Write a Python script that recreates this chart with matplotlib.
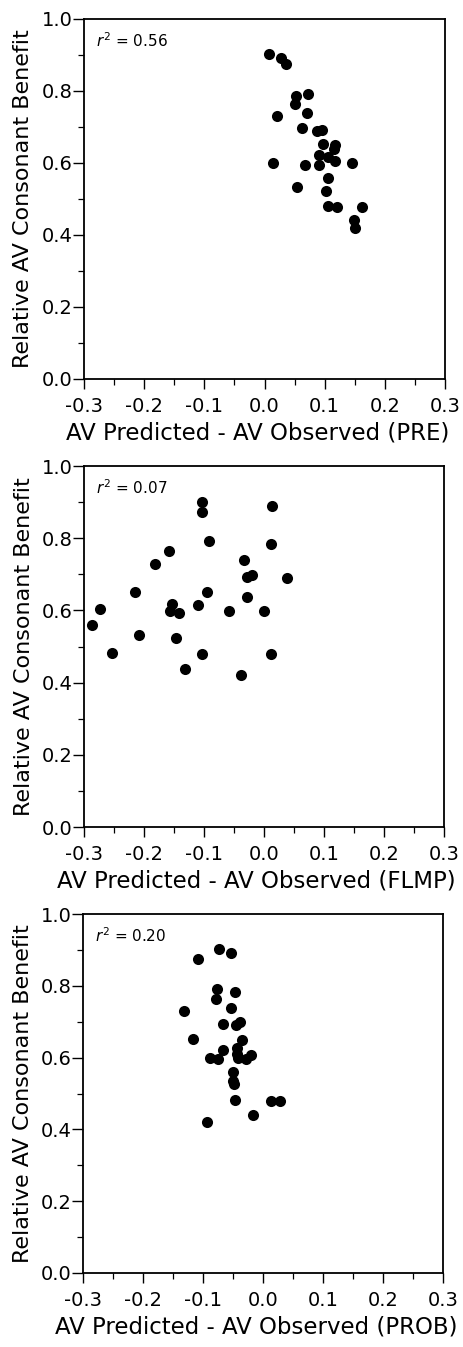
import matplotlib
matplotlib.use("Agg")
import matplotlib.pyplot as plt
from matplotlib.ticker import MultipleLocator

plt.rcParams['font.family'] = ['DejaVu Sans']
plt.rcParams['mathtext.fontset'] = 'dejavusans'
plt.rcParams['axes.unicode_minus'] = False

# Panel 1: PRE
pre_x = [0.008, 0.028, 0.035, 0.053, 0.072, 0.050, 0.020, 0.071, 0.062, 0.088,
         0.096, 0.097, 0.117, 0.116, 0.091, 0.106, 0.117, 0.090, 0.014, 0.068,
         0.146, 0.105, 0.054, 0.102, 0.106, 0.120, 0.162, 0.149, 0.150]
pre_y = [0.902, 0.893, 0.876, 0.785, 0.791, 0.764, 0.730, 0.740, 0.698, 0.689,
         0.692, 0.652, 0.649, 0.639, 0.621, 0.618, 0.606, 0.595, 0.600, 0.594,
         0.599, 0.559, 0.532, 0.523, 0.481, 0.479, 0.479, 0.442, 0.419]

# Panel 2: FLMP
flmp_x = [-0.104, -0.103, 0.013, -0.091, 0.012, -0.158, -0.182, -0.034, -0.028, -0.020,
          0.038, -0.215, -0.095, -0.028, -0.274, -0.153, -0.156, -0.141, -0.110, -0.059,
          0.000, -0.286, -0.209, -0.147, -0.253, -0.104, 0.011, -0.131, -0.038]
flmp_y = [0.901, 0.873, 0.889, 0.791, 0.783, 0.764, 0.729, 0.739, 0.692, 0.697,
          0.689, 0.650, 0.650, 0.638, 0.605, 0.619, 0.597, 0.593, 0.616, 0.598,
          0.597, 0.559, 0.532, 0.524, 0.482, 0.478, 0.478, 0.439, 0.420]

# Panel 3: PROB
prob_x = [-0.108, -0.073, -0.054, -0.076, -0.078, -0.047, -0.132, -0.054, -0.067, -0.045,
          -0.039, -0.117, -0.066, -0.088, -0.075, -0.050, -0.050, -0.049, -0.046, 0.013,
          0.029, -0.016, -0.093, -0.035, -0.043, -0.043, -0.041, -0.028, -0.020]
prob_y = [0.876, 0.902, 0.890, 0.792, 0.764, 0.784, 0.729, 0.738, 0.693, 0.690,
          0.698, 0.651, 0.621, 0.600, 0.595, 0.561, 0.535, 0.527, 0.482, 0.479,
          0.479, 0.440, 0.421, 0.650, 0.628, 0.610, 0.598, 0.597, 0.606]

r2_labels = ['0.56', '0.07', '0.20']
x_labels = ['AV Predicted - AV Observed (PRE)',
            'AV Predicted - AV Observed (FLMP)',
            'AV Predicted - AV Observed (PROB)']
y_label = 'Relative AV Consonant Benefit'
x_ticks = [-0.3, -0.2, -0.1, 0.0, 0.1, 0.2, 0.3]
y_ticks = [0.0, 0.2, 0.4, 0.6, 0.8, 1.0]

W, H = 463, 1347
fig = plt.figure(figsize=(W / 100, H / 100), dpi=100)

# axes boxes in pixels: left, right, top, bottom
boxes = [(84, 445, 19, 379), (84, 444, 466, 827), (83, 443, 914, 1273)]
data = [(pre_x, pre_y), (flmp_x, flmp_y), (prob_x, prob_y)]

for (l, r, t, b), (xs, ys), r2, xl in zip(boxes, data, r2_labels, x_labels):
    ax = fig.add_axes([l / W, 1 - b / H, (r - l) / W, (b - t) / H])
    ax.plot(xs, ys, 'o', color='black', markersize=8.0, markeredgewidth=0)
    ax.set_xlim(-0.3, 0.3)
    ax.set_ylim(0.0, 1.0)
    ax.set_xticks(x_ticks)
    ax.set_xticklabels([f'{v:.1f}' for v in x_ticks])
    ax.set_yticks(y_ticks)
    ax.set_yticklabels([f'{v:.1f}' for v in y_ticks])
    ax.xaxis.set_minor_locator(MultipleLocator(0.05))
    ax.yaxis.set_minor_locator(MultipleLocator(0.1))
    ax.tick_params(which='major', direction='out', width=1.0,
                   labelsize=14, color='black')
    ax.tick_params(axis='x', which='major', length=7, pad=6)
    ax.tick_params(axis='y', which='major', length=8, pad=0)
    ax.tick_params(which='minor', direction='out', length=4, width=0.9, color='black')
    for sp in ax.spines.values():
        sp.set_linewidth(1.3)
        sp.set_color('black')
    ax.set_xlabel(xl, fontsize=16.5)
    ax.set_ylabel(y_label, fontsize=16)
    ax.xaxis.set_label_coords(0.48, -0.118)
    ax.yaxis.set_label_coords(-0.14, 0.5)
    ax.text(0.034, 0.922, r'$r^2$' + ' = ' + r2, transform=ax.transAxes,
            fontsize=11, ha='left', va='baseline')

fig.savefig('out.png', dpi=100)
